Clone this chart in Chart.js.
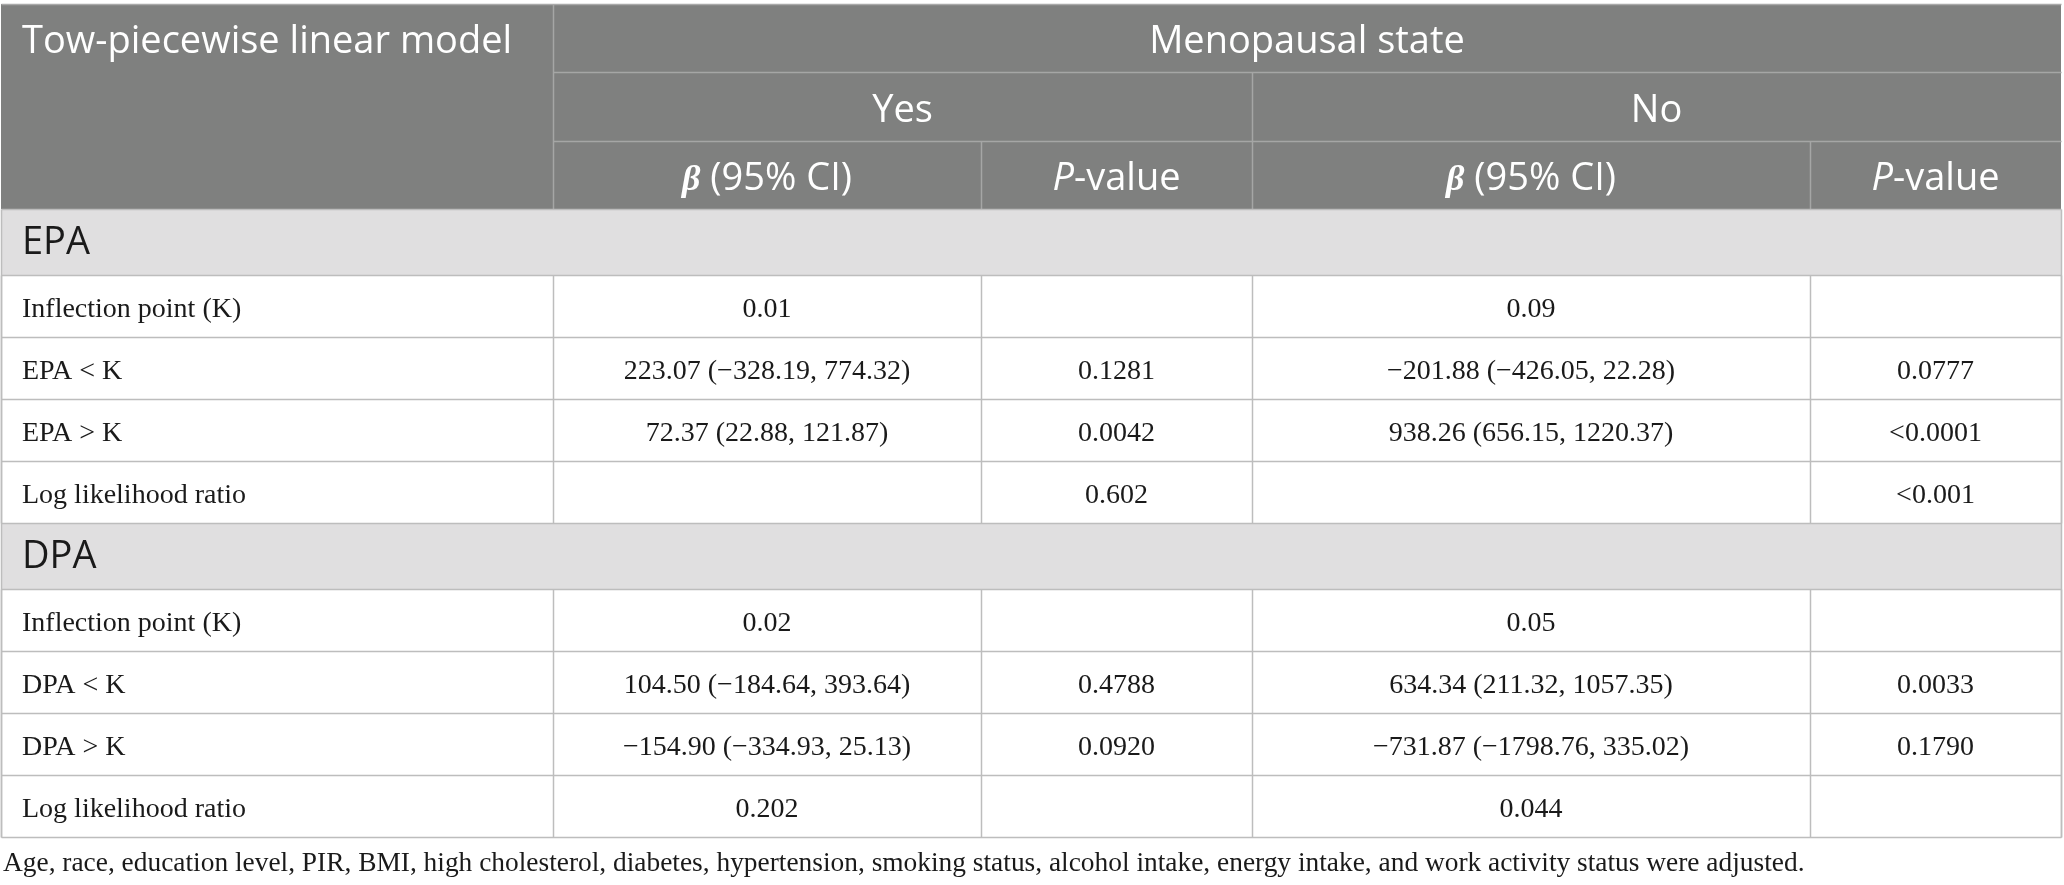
<!DOCTYPE html>
<html lang="en">
<head>
<meta charset="UTF-8">
<title>Tow-piecewise linear model</title>
<script src="https://cdn.jsdelivr.net/npm/chart.js"></script>
<style>
    body { margin: 0; padding: 0; background: #fff; }
    #tbl { display: block; }
</style>
</head>
<body>
<canvas id="tbl" width="2064" height="885"></canvas>
<script>
    // table content
    var cornerTitle = 'Tow-piecewise linear model';
    var groupTitle = 'Menopausal state';
    var groups = ['Yes', 'No'];
    var sections = ['EPA', 'DPA'];
    var rowLabels = [
        ['Inflection point (K)', 'EPA < K', 'EPA > K', 'Log likelihood ratio'],
        ['Inflection point (K)', 'DPA < K', 'DPA > K', 'Log likelihood ratio']
    ];
    var yesBeta = [
        ['0.01', '223.07 (\u2212328.19, 774.32)', '72.37 (22.88, 121.87)', ''],
        ['0.02', '104.50 (\u2212184.64, 393.64)', '\u2212154.90 (\u2212334.93, 25.13)', '0.202']
    ];
    var yesP = [
        ['', '0.1281', '0.0042', '0.602'],
        ['', '0.4788', '0.0920', '']
    ];
    var noBeta = [
        ['0.09', '\u2212201.88 (\u2212426.05, 22.28)', '938.26 (656.15, 1220.37)', ''],
        ['0.05', '634.34 (211.32, 1057.35)', '\u2212731.87 (\u22121798.76, 335.02)', '0.044']
    ];
    var noP = [
        ['', '0.0777', '<0.0001', '<0.001'],
        ['', '0.0033', '0.1790', '']
    ];
    var footnote = 'Age, race, education level, PIR, BMI, high cholesterol, diabetes, hypertension, smoking status, alcohol intake, energy intake, and work activity status were adjusted.';

    // layout (in scale units)
    var colEdges = [1, 553, 981, 1252, 1810, 2061];
    var headEdges = [4, 72, 141, 209];
    var sectionH = 66;
    var rowH = 62;

    var SANS = '"Open Sans", "Noto Sans", sans-serif';
    var SERIF = '"Liberation Serif", "DejaVu Serif", serif';

    function line(ctx, sx, sy, x1, y1, x2, y2) {
        ctx.beginPath();
        ctx.moveTo(Math.round(sx.getPixelForValue(x1)) + 0.5, Math.round(sy.getPixelForValue(y1)) + 0.5);
        ctx.lineTo(Math.round(sx.getPixelForValue(x2)) + 0.5, Math.round(sy.getPixelForValue(y2)) + 0.5);
        ctx.stroke();
    }

    // draw a list of [text, font] runs centred (or left aligned) at x, on baseline y
    function runs(ctx, parts, x, y, align) {
        var w = 0;
        parts.forEach(function (p) { ctx.font = p[1]; w += ctx.measureText(p[0]).width; });
        var cx = align === 'left' ? x : x - w / 2;
        ctx.textAlign = 'left';
        ctx.textBaseline = 'alphabetic';
        parts.forEach(function (p) {
            ctx.font = p[1];
            ctx.fillText(p[0], cx, y);
            cx += ctx.measureText(p[0]).width;
        });
    }

    var tablePlugin = {
        id: 'tablePlugin',
        afterDraw: function (chart) {
            var ctx = chart.ctx;
            var sx = chart.scales.x, sy = chart.scales.y;
            var X = function (v) { return sx.getPixelForValue(v); };
            var Y = function (v) { return sy.getPixelForValue(v); };
            var hFont = '400 38px ' + SANS;
            var dFont = '28px ' + SERIF;
            ctx.save();

            // header block
            var hTop = headEdges[0], hBot = headEdges[3];
            ctx.fillStyle = '#7f807f';
            ctx.fillRect(X(colEdges[0]), Y(hTop), X(colEdges[5]) - X(colEdges[0]), Y(hBot) - Y(hTop));
            ctx.strokeStyle = '#a5a6a5';
            ctx.lineWidth = 1.5;
            line(ctx, sx, sy, colEdges[1], headEdges[1], colEdges[5], headEdges[1]);
            line(ctx, sx, sy, colEdges[1], headEdges[2], colEdges[5], headEdges[2]);
            line(ctx, sx, sy, colEdges[1], hTop, colEdges[1], hBot);
            line(ctx, sx, sy, colEdges[3], headEdges[1], colEdges[3], hBot);
            line(ctx, sx, sy, colEdges[2], headEdges[2], colEdges[2], hBot);
            line(ctx, sx, sy, colEdges[4], headEdges[2], colEdges[4], hBot);

            ctx.fillStyle = '#ffffff';
            var b1 = (Y(headEdges[0]) + Y(headEdges[1])) / 2 + 15;
            var b2 = (Y(headEdges[1]) + Y(headEdges[2])) / 2 + 15;
            var b3 = (Y(headEdges[2]) + Y(headEdges[3])) / 2 + 15;
            runs(ctx, [[cornerTitle, hFont]], X(colEdges[0]) + 21, b1, 'left');
            runs(ctx, [[groupTitle, hFont]], (X(colEdges[1]) + X(colEdges[5])) / 2, b1);
            groups.forEach(function (g, i) {
                runs(ctx, [[g, hFont]], (X(colEdges[1 + 2 * i]) + X(colEdges[3 + 2 * i])) / 2, b2);
                runs(ctx, [['\u03b2', 'italic 700 36px ' + SERIF], [' (95% CI)', hFont]],
                    (X(colEdges[1 + 2 * i]) + X(colEdges[2 + 2 * i])) / 2, b3);
                runs(ctx, [['P', 'italic 400 38px ' + SANS], ['-value', hFont]],
                    (X(colEdges[2 + 2 * i]) + X(colEdges[3 + 2 * i])) / 2, b3);
            });

            // body
            var y = hBot;
            ctx.strokeStyle = '#bdbdbd';
            ctx.lineWidth = 1.5;
            sections.forEach(function (sec, s) {
                ctx.fillStyle = '#e0dfe0';
                ctx.fillRect(X(colEdges[0]), Y(y), X(colEdges[5]) - X(colEdges[0]), Y(y + sectionH) - Y(y));
                ctx.fillStyle = '#1a1a1a';
                runs(ctx, [[sec, hFont]], X(colEdges[0]) + 21, (Y(y) + Y(y + sectionH)) / 2 + 12, 'left');
                line(ctx, sx, sy, colEdges[0], y, colEdges[5], y);
                y += sectionH;
                rowLabels[s].forEach(function (lab, r) {
                    line(ctx, sx, sy, colEdges[0], y, colEdges[5], y);
                    for (var c = 0; c < colEdges.length; c++) {
                        line(ctx, sx, sy, colEdges[c], y, colEdges[c], y + rowH);
                    }
                    var by = (Y(y) + Y(y + rowH)) / 2 + 11;
                    var cells = [yesBeta[s][r], yesP[s][r], noBeta[s][r], noP[s][r]];
                    ctx.fillStyle = '#1a1a1a';
                    runs(ctx, [[lab, dFont]], X(colEdges[0]) + 21, by, 'left');
                    cells.forEach(function (t, c) {
                        if (t) runs(ctx, [[t, dFont]], (X(colEdges[c + 1]) + X(colEdges[c + 2])) / 2, by);
                    });
                    y += rowH;
                });
            });
            line(ctx, sx, sy, colEdges[0], y, colEdges[5], y);
            line(ctx, sx, sy, colEdges[0], hBot, colEdges[0], y);
            line(ctx, sx, sy, colEdges[5], hBot, colEdges[5], y);

            // top edge of header
            ctx.strokeStyle = '#a9a9a9';
            line(ctx, sx, sy, colEdges[0], hTop, colEdges[5], hTop);

            ctx.fillStyle = '#1a1a1a';
            runs(ctx, [[footnote, '27.4px ' + SERIF]], X(colEdges[0]) + 2, Y(y + 34), 'left');
            ctx.restore();
        }
    };

    var chart = new Chart(document.getElementById('tbl').getContext('2d'), {
        type: 'scatter',
        data: { datasets: [] },
        options: {
            responsive: false,
            animation: false,
            devicePixelRatio: 1,
            layout: { padding: 0 },
            plugins: { legend: { display: false }, tooltip: { enabled: false } },
            scales: {
                x: { type: 'linear', min: 0, max: 2064, display: false },
                y: { type: 'linear', min: 0, max: 885, reverse: true, display: false }
            }
        },
        plugins: [tablePlugin]
    });
</script>
</body>
</html>
